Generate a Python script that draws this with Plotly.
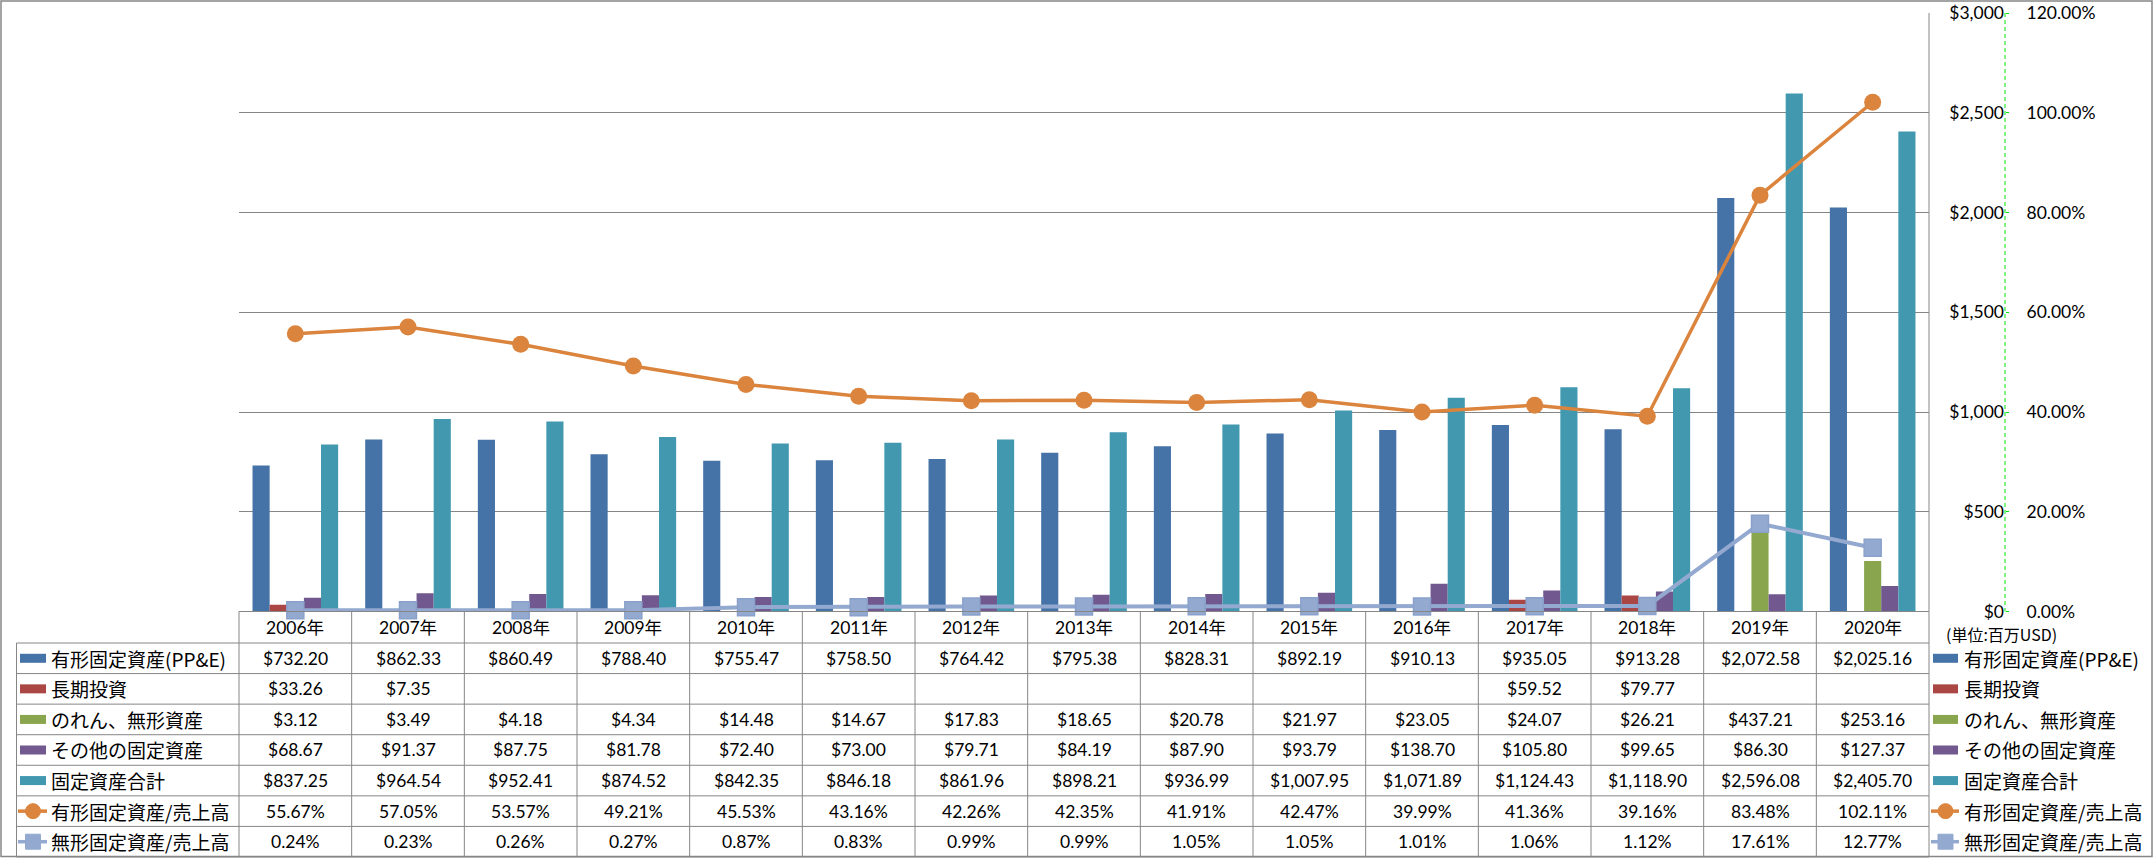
import plotly.graph_objects as go

# ---------------- data ----------------
years = ["2006年", "2007年", "2008年", "2009年", "2010年", "2011年", "2012年", "2013年",
         "2014年", "2015年", "2016年", "2017年", "2018年", "2019年", "2020年"]
ppe = [732.20, 862.33, 860.49, 788.40, 755.47, 758.50, 764.42, 795.38,
       828.31, 892.19, 910.13, 935.05, 913.28, 2072.58, 2025.16]
lt_invest = [33.26, 7.35, None, None, None, None, None, None,
             None, None, None, 59.52, 79.77, None, None]
goodwill = [3.12, 3.49, 4.18, 4.34, 14.48, 14.67, 17.83, 18.65,
            20.78, 21.97, 23.05, 24.07, 26.21, 437.21, 253.16]
other_fixed = [68.67, 91.37, 87.75, 81.78, 72.40, 73.00, 79.71, 84.19,
               87.90, 93.79, 138.70, 105.80, 99.65, 86.30, 127.37]
total_fixed = [837.25, 964.54, 952.41, 874.52, 842.35, 846.18, 861.96, 898.21,
               936.99, 1007.95, 1071.89, 1124.43, 1118.90, 2596.08, 2405.70]
ppe_ratio = [55.67, 57.05, 53.57, 49.21, 45.53, 43.16, 42.26, 42.35,
             41.91, 42.47, 39.99, 41.36, 39.16, 83.48, 102.11]
intang_ratio = [0.24, 0.23, 0.26, 0.27, 0.87, 0.83, 0.99, 0.99,
                1.05, 1.05, 1.01, 1.06, 1.12, 17.61, 12.77]

bar_names = ["有形固定資産(PP&E)", "長期投資", "のれん、無形資産", "その他の固定資産", "固定資産合計"]
line_names = ["有形固定資産/売上高", "無形固定資産/売上高"]
unit_label = "(単位:百万USD)"

bar_colors = ["#4572A7", "#AA4643", "#89A54E", "#71588F", "#4198AF"]
line_colors = ["#DB843D", "#93A9CF"]

# ---------------- geometry (pixels) ----------------
W, H = 2156, 858
PL, PR = 239, 1929          # plot area left/right
PT, PB = 13, 611.5          # plot area top/bottom
AX = 2005                   # secondary axis line
TBL_L = 16.5
HDR_TOP = PB
ROW_TOP = 643
ROW_H = 30.57
N_ROWS = 7


def fx(x):
    return x / W


def fy(y):
    return 1 - y / H


fig = go.Figure()

bar_series = [ppe, lt_invest, goodwill, other_fixed, total_fixed]
for name, vals, col in zip(bar_names, bar_series, bar_colors):
    fig.add_trace(go.Bar(x=years, y=vals, name=name, marker=dict(color=col, line=dict(width=0)),
                         yaxis="y", showlegend=False))

fig.add_trace(go.Scatter(x=years, y=[v / 100 for v in ppe_ratio], name=line_names[0], yaxis="y2",
                         mode="lines+markers", line=dict(color=line_colors[0], width=3.5),
                         marker=dict(symbol="circle", size=17, color=line_colors[0]),
                         cliponaxis=False, showlegend=False))
fig.add_trace(go.Scatter(x=years, y=[v / 100 for v in intang_ratio], name=line_names[1], yaxis="y2",
                         mode="lines+markers", line=dict(color=line_colors[1], width=4),
                         marker=dict(symbol="square", size=17, color=line_colors[1],
                                     line=dict(color="#8AA1CB", width=1.5)),
                         cliponaxis=False, showlegend=False))

GRID = "#868686"
NUM_FONT = dict(family="Lato, 'Noto Sans CJK JP', sans-serif", size=17.5, color="black")
JP_FONT = dict(family="'Noto Sans CJK JP', sans-serif", size=19, color="black")

shapes = []
annotations = []


def hline(y, x0, x1, color=GRID, width=1):
    shapes.append(dict(type="line", xref="paper", yref="paper", x0=fx(x0), x1=fx(x1),
                       y0=fy(y), y1=fy(y), line=dict(color=color, width=width)))


def vline(x, y0, y1, color=GRID, width=1, dash=None):
    ln = dict(color=color, width=width)
    if dash:
        ln["dash"] = dash
    shapes.append(dict(type="line", xref="paper", yref="paper", x0=fx(x), x1=fx(x),
                       y0=fy(y0), y1=fy(y1), line=ln))


# outer chart border
shapes.append(dict(type="rect", xref="paper", yref="paper", x0=fx(1), x1=fx(2152), y0=fy(1), y1=fy(856.5),
                   line=dict(color="#868686", width=1.5)))

# plot right border
vline(PR, PT, PB)
# secondary axis dashed green line
vline(AX, PT, PB, color="#00E600", width=1, dash="4px,3px")

# table lines
row_ys = [ROW_TOP + k * ROW_H for k in range(N_ROWS + 1)]
hline(HDR_TOP, PL, PR)
for y in row_ys:
    hline(y, TBL_L, PR)
vline(TBL_L, ROW_TOP, row_ys[-1])
vline(PL, HDR_TOP, row_ys[-1])
vline(PR, HDR_TOP, row_ys[-1])
for k in range(1, len(years)):
    shapes.append(dict(type="line", xref="x", yref="paper", x0=k - 0.5, x1=k - 0.5,
                       y0=fy(HDR_TOP), y1=fy(row_ys[-1]), line=dict(color=GRID, width=1)))

# header years
for i, yr in enumerate(years):
    annotations.append(dict(x=yr, y=fy((HDR_TOP + ROW_TOP) / 2), xref="x", yref="paper", text=yr,
                            showarrow=False, font=NUM_FONT, xanchor="center", yanchor="middle"))


def money(v):
    return "" if v is None else "${:,.2f}".format(v)


def pct(v):
    return "{:.2f}%".format(v)


table_rows = [[money(v) for v in s] for s in bar_series] + \
             [[pct(v) for v in ppe_ratio], [pct(v) for v in intang_ratio]]
all_names = bar_names + line_names
all_colors = bar_colors + line_colors

for r, row in enumerate(table_rows):
    yc = row_ys[r] + ROW_H / 2
    for i, txt in enumerate(row):
        if txt:
            annotations.append(dict(x=years[i], y=fy(yc), xref="x", yref="paper", text=txt,
                                    showarrow=False, font=NUM_FONT, xanchor="center", yanchor="middle"))
    # legend keys left and right
    for (kx0, kx1, tx) in [(20, 46, 49), (1933, 1958, 1962)]:
        if r < 5:
            shapes.append(dict(type="rect", xref="paper", yref="paper", x0=fx(kx0), x1=fx(kx1),
                               y0=fy(yc - 4.5), y1=fy(yc + 4.5), fillcolor=all_colors[r],
                               line=dict(width=0)))
        else:
            col = all_colors[r]
            hline(yc, kx0 - 2, kx1 + 1, color=col, width=3.5)
            cx = (kx0 + kx1) / 2
            rad = 7.5
            shapes.append(dict(type="circle" if r == 5 else "rect", xref="paper", yref="paper",
                               x0=fx(cx - rad), x1=fx(cx + rad), y0=fy(yc - rad), y1=fy(yc + rad),
                               fillcolor=col, line=dict(color=col, width=1)))
        annotations.append(dict(x=fx(tx), y=fy(yc), xref="paper", yref="paper", text=all_names[r],
                                showarrow=False, font=JP_FONT, xanchor="left", yanchor="middle"))

annotations.append(dict(x=fx(1944), y=fy(634), xref="paper", yref="paper", text=unit_label,
                        showarrow=False, font=dict(family="'Noto Sans CJK JP', sans-serif", size=16, color="black"),
                        xanchor="left", yanchor="middle"))

fig.update_layout(
    width=W, height=H,
    margin=dict(l=0, r=0, t=0, b=0, pad=0, autoexpand=False),
    paper_bgcolor="white", plot_bgcolor="white",
    barmode="group", bargap=0.24, bargroupgap=0,
    showlegend=False,
    xaxis=dict(domain=[fx(PL), fx(PR)], type="category", range=[-0.5, len(years) - 0.5],
               showticklabels=False, ticks="", showgrid=False, showline=False, zeroline=False,
               fixedrange=True, automargin=False),
    yaxis=dict(domain=[fy(PB), fy(PT)], range=[0, 3000], dtick=500, tickformat="$,.0f",
               showgrid=True, gridcolor=GRID, gridwidth=1, zeroline=False, showline=False,
               anchor="free", position=fx(AX), side="left", ticks="", ticklabelstandoff=1,
               tickfont=NUM_FONT, fixedrange=True, automargin=False),
    yaxis2=dict(domain=[fy(PB), fy(PT)], range=[0, 1.2], dtick=0.2, tickformat=".2%",
                overlaying="y", anchor="free", position=fx(AX), side="right",
                showgrid=False, zeroline=False, showline=False,
                ticks="outside", ticklen=3, tickcolor="#00E600", tickwidth=1,
                ticklabelstandoff=14, tickfont=NUM_FONT, fixedrange=True, automargin=False),
    shapes=shapes,
    annotations=annotations,
)

fig.write_html("out.html", config={"displayModeBar": False},
               post_script="document.body.style.margin='0';document.body.style.overflow='hidden';")
